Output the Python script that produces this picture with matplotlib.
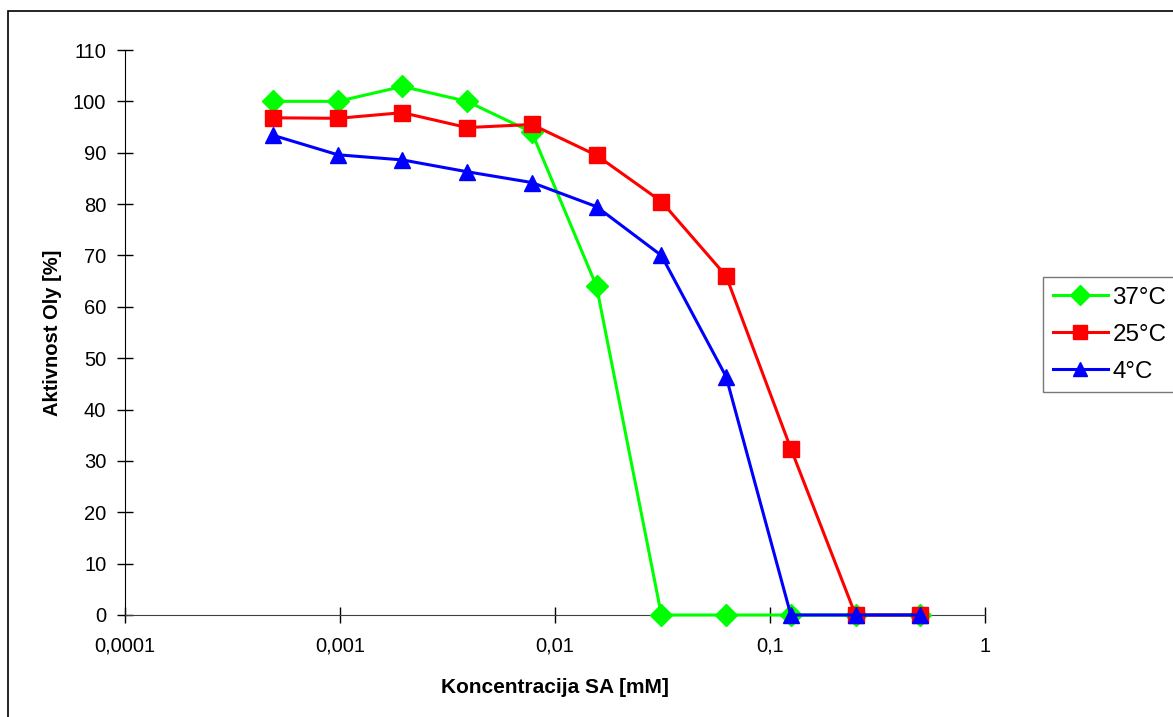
import matplotlib.pyplot as plt
from matplotlib.patches import Rectangle
from matplotlib.ticker import FixedLocator, FixedFormatter, NullLocator

plt.rcParams['font.family'] = ['Liberation Sans', 'DejaVu Sans']

# concentration SA [mM] (two-fold dilutions)
conc = [0.000488, 0.000977, 0.00195, 0.0039, 0.0078, 0.0156, 0.03125, 0.0625, 0.125, 0.25, 0.5]
act_37 = [100, 100, 102.9, 100, 94, 64, 0, 0, 0, 0, 0]
act_25 = [96.8, 96.7, 97.8, 94.9, 95.5, 89.5, 80.5, 66, 32.4, 0, 0]
act_4 = [93.4, 89.6, 88.6, 86.3, 84.2, 79.5, 70, 46.4, 0, 0, 0]

xticks = [0.0001, 0.001, 0.01, 0.1, 1]
xtick_labels = ['0,0001', '0,001', '0,01', '0,1', '1']
yticks = list(range(0, 111, 10))

fig = plt.figure(figsize=(11.73, 7.17), dpi=100)
ax = fig.add_axes([125 / 1173, 1 - 615 / 717, 860 / 1173, 565 / 717])

ax.plot(conc, act_37, color='#00ff00', marker='D', markersize=11, linewidth=2.2,
        label='37°C', clip_on=False, zorder=3)
ax.plot(conc, act_25, color='#ff0000', marker='s', markersize=11, linewidth=2.2,
        label='25°C', clip_on=False, zorder=4)
ax.plot(conc, act_4, color='#0000ff', marker='^', markersize=11, linewidth=2.2,
        label='4°C', clip_on=False, zorder=5)

ax.set_xscale('log')
ax.set_xlim(0.0001, 1)
ax.set_ylim(0, 110)
ax.xaxis.set_major_locator(FixedLocator(xticks))
ax.xaxis.set_major_formatter(FixedFormatter(xtick_labels))
ax.xaxis.set_minor_locator(NullLocator())
ax.set_yticks(yticks)

ax.spines['top'].set_visible(False)
ax.spines['right'].set_visible(False)
ax.spines['left'].set_color('black')
ax.spines['bottom'].set_color('#404040')
ax.tick_params(direction='inout', length=11, width=1, labelsize=14.5)
ax.tick_params(axis='x', pad=10)
ax.tick_params(axis='y', pad=8)

ax.set_xlabel('Koncentracija SA [mM]', fontsize=15, fontweight='bold')
ax.set_ylabel('Aktivnost Oly [%]', fontsize=14.5, fontweight='bold')
ax.xaxis.set_label_coords(0.5, -0.112)
ax.yaxis.set_label_coords(-0.073, 0.5)

leg = fig.legend(loc='upper left', bbox_to_anchor=(1043 / 1173, 1 - 277 / 717),
                 borderaxespad=0, fontsize=17.4, frameon=True, fancybox=False,
                 handlelength=2.27, borderpad=0.4, labelspacing=0.62,
                 handletextpad=0.2, markerscale=0.9)
leg.get_frame().set_edgecolor('#555555')
leg.get_frame().set_linewidth(1)

# outer chart border (right/bottom edges lie outside the image)
fig.patches.append(Rectangle((8 / 1173, -0.1), 1.2, 1 - 11 / 717 + 0.1,
                             transform=fig.transFigure, fill=False,
                             edgecolor='black', linewidth=1.2))

fig.savefig('out.png', dpi=100)
